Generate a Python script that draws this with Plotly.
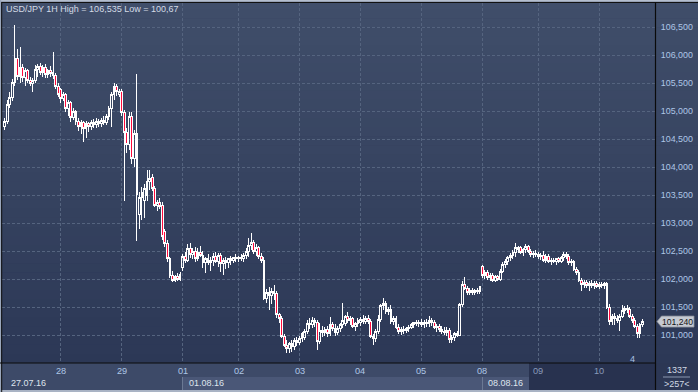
import plotly.graph_objects as go

# ---------------- data (USD/JPY, 1H candles) ----------------
opens = [
    104.72, 104.82, 105.12, 105.25, 105.52, 105.95, 105.62, 105.78, 105.60, 105.72,
    105.55, 105.50, 105.55, 105.75, 105.80, 105.70, 105.78, 105.66, 105.72, 105.70,
    105.64, 105.45, 105.38, 105.22, 105.30, 105.05, 105.15, 104.88, 105.00, 104.82,
    104.72, 104.80, 104.70, 104.78, 104.72, 104.80, 104.76, 104.82, 104.78, 104.84,
    104.80, 104.90, 105.05, 105.30, 105.45, 105.30, 105.36, 104.98, 104.62, 104.40,
    104.90, 104.15, 104.60, 103.15, 103.45, 103.40, 103.50, 103.75, 103.82, 103.62,
    103.32, 103.36, 103.32, 102.85, 102.64, 102.36, 102.06, 101.98, 102.04, 102.00,
    102.20, 102.40, 102.34, 102.55, 102.44, 102.50, 102.36, 102.48, 102.42, 102.30,
    102.36, 102.30, 102.34, 102.40, 102.32, 102.42, 102.28, 102.34, 102.30, 102.36,
    102.34, 102.38, 102.36, 102.38, 102.36, 102.42, 102.50, 102.60, 102.66, 102.50,
    102.56, 102.40, 102.34, 101.66, 101.76, 101.70, 101.78, 101.74, 101.36, 101.30,
    100.98, 100.82, 100.76, 100.84, 100.80, 100.90, 100.86, 100.94, 100.96, 101.06,
    101.20, 101.18, 101.26, 101.22, 100.88, 101.08, 101.04, 101.10, 101.02, 101.18,
    101.12, 101.04, 101.12, 101.18, 101.20, 101.34, 101.26, 101.30, 101.16, 101.20,
    101.22, 101.28, 101.24, 101.30, 101.24, 100.98, 100.94, 101.06, 101.28, 101.52,
    101.56, 101.42, 101.46, 101.24, 101.30, 101.14, 101.06, 101.10, 101.08, 101.12,
    101.14, 101.18, 101.22, 101.20, 101.22, 101.18, 101.22, 101.20, 101.26, 101.22,
    101.14, 101.16, 101.10, 101.06, 101.04, 101.08, 100.92, 100.96, 101.02, 101.00,
    101.55, 101.90, 101.84, 101.76, 101.80, 101.76, 101.80, 101.78, 102.22, 102.06,
    102.12, 102.02, 102.06, 101.98, 102.04, 101.99, 102.14, 102.26, 102.32, 102.38,
    102.42, 102.48, 102.56, 102.56, 102.48, 102.52, 102.58, 102.50, 102.44, 102.46,
    102.44, 102.40, 102.42, 102.34, 102.40, 102.32, 102.34, 102.32, 102.36, 102.32,
    102.38, 102.44, 102.40, 102.30, 102.32, 102.18, 102.12, 101.98, 101.90, 101.94,
    101.88, 101.92, 101.88, 101.92, 101.86, 101.90, 101.88, 101.92, 101.50, 101.24,
    101.34, 101.30, 101.26, 101.34, 101.44, 101.48, 101.46, 101.34, 101.26, 101.16,
    101.02, 101.18,
]
highs = [
    104.88, 105.20, 105.34, 105.58, 106.54, 106.12, 106.14, 105.85, 105.78, 105.75,
    105.62, 105.60, 105.82, 105.85, 105.87, 105.82, 105.84, 105.76, 105.80, 106.05,
    105.68, 105.50, 105.42, 105.35, 105.32, 105.20, 105.18, 105.05, 105.02, 104.88,
    104.84, 104.82, 104.82, 104.80, 104.85, 104.86, 104.88, 104.86, 104.88, 104.92,
    104.95, 105.10, 105.34, 105.50, 105.48, 105.40, 105.40, 105.02, 104.70, 104.98,
    104.98, 104.66, 105.66, 103.55, 103.65, 103.70, 103.95, 103.95, 103.88, 103.66,
    103.42, 103.45, 103.38, 102.90, 102.70, 102.40, 102.14, 102.08, 102.10, 102.12,
    102.45, 102.48, 102.62, 102.64, 102.56, 102.58, 102.55, 102.60, 102.50, 102.40,
    102.44, 102.40, 102.46, 102.48, 102.46, 102.46, 102.38, 102.40, 102.38, 102.42,
    102.40, 102.44, 102.42, 102.44, 102.46, 102.55, 102.73, 102.82, 102.70, 102.62,
    102.60, 102.46, 102.40, 101.82, 101.86, 101.84, 101.90, 101.78, 101.40, 101.34,
    101.02, 100.92, 100.88, 100.92, 100.94, 100.96, 100.98, 101.06, 101.10, 101.26,
    101.30, 101.32, 101.30, 101.26, 101.22, 101.16, 101.14, 101.16, 101.32, 101.24,
    101.20, 101.16, 101.22, 101.58, 101.36, 101.42, 101.34, 101.32, 101.24, 101.30,
    101.32, 101.36, 101.34, 101.36, 101.28, 101.02, 101.10, 101.36, 101.56, 101.66,
    101.60, 101.50, 101.54, 101.34, 101.34, 101.20, 101.14, 101.16, 101.14, 101.18,
    101.22, 101.24, 101.26, 101.26, 101.28, 101.26, 101.28, 101.34, 101.30, 101.26,
    101.20, 101.20, 101.16, 101.14, 101.14, 101.12, 101.00, 101.06, 101.08, 101.58,
    101.96, 102.04, 101.88, 101.84, 101.84, 101.82, 101.84, 101.88, 102.25, 102.16,
    102.16, 102.10, 102.10, 102.08, 102.08, 102.18, 102.30, 102.36, 102.42, 102.46,
    102.52, 102.64, 102.60, 102.60, 102.56, 102.62, 102.61, 102.54, 102.50, 102.52,
    102.48, 102.46, 102.50, 102.44, 102.44, 102.38, 102.38, 102.38, 102.40, 102.42,
    102.48, 102.48, 102.44, 102.36, 102.34, 102.22, 102.16, 102.02, 101.98, 101.98,
    101.96, 101.98, 101.96, 101.96, 101.94, 101.95, 101.94, 101.95, 101.56, 101.38,
    101.40, 101.36, 101.38, 101.54, 101.52, 101.54, 101.50, 101.38, 101.30, 101.20,
    101.22, 101.28,
]
lows = [
    104.66, 104.78, 105.05, 105.18, 105.45, 105.55, 105.50, 105.52, 105.45, 105.50,
    105.45, 105.35, 105.50, 105.62, 105.65, 105.62, 105.60, 105.60, 105.62, 105.58,
    105.40, 105.25, 105.15, 105.18, 104.98, 104.92, 104.80, 104.85, 104.75, 104.65,
    104.60, 104.45, 104.52, 104.62, 104.66, 104.70, 104.70, 104.72, 104.72, 104.76,
    104.75, 104.85, 104.72, 105.20, 105.28, 105.25, 104.92, 103.40, 104.25, 104.30,
    104.05, 104.00, 102.68, 102.90, 103.05, 103.10, 103.40, 103.60, 103.58, 103.28,
    103.22, 103.25, 102.70, 102.58, 102.30, 102.02, 101.95, 101.94, 101.96, 101.97,
    102.15, 102.28, 102.30, 102.38, 102.36, 102.30, 102.32, 102.40, 102.20, 102.10,
    102.26, 102.14, 102.24, 102.28, 102.22, 102.12, 102.08, 102.18, 102.20, 102.26,
    102.28, 102.30, 102.30, 102.32, 102.30, 102.36, 102.40, 102.52, 102.45, 102.42,
    102.36, 102.28, 101.62, 101.58, 101.44, 101.55, 101.62, 101.30, 101.22, 100.94,
    100.78, 100.67, 100.67, 100.70, 100.74, 100.80, 100.82, 100.88, 100.92, 101.02,
    101.10, 101.12, 101.14, 100.73, 100.84, 100.96, 100.98, 100.96, 100.98, 101.08,
    100.98, 101.00, 101.06, 101.12, 101.16, 101.22, 101.18, 101.12, 101.08, 101.14,
    101.16, 101.20, 101.20, 101.20, 100.94, 100.82, 100.88, 101.02, 101.24, 101.44,
    101.38, 101.36, 101.20, 101.18, 101.10, 101.02, 101.00, 101.02, 101.04, 101.06,
    101.10, 101.12, 101.16, 101.14, 101.14, 101.12, 101.14, 101.14, 101.16, 101.10,
    101.06, 101.06, 101.02, 101.00, 100.98, 100.86, 100.86, 100.90, 100.96, 100.98,
    101.50, 101.80, 101.72, 101.72, 101.72, 101.72, 101.74, 101.74, 102.02, 102.00,
    101.98, 101.96, 101.94, 101.94, 101.96, 101.96, 102.10, 102.20, 102.26, 102.32,
    102.36, 102.40, 102.46, 102.44, 102.42, 102.46, 102.46, 102.40, 102.38, 102.40,
    102.36, 102.34, 102.30, 102.28, 102.28, 102.26, 102.28, 102.26, 102.28, 102.28,
    102.32, 102.36, 102.26, 102.24, 102.14, 102.08, 101.94, 101.78, 101.84, 101.84,
    101.78, 101.84, 101.82, 101.84, 101.82, 101.84, 101.82, 101.46, 101.18, 101.18,
    101.18, 101.22, 101.08, 101.30, 101.38, 101.40, 101.30, 101.22, 101.12, 100.95,
    100.95, 101.14,
]
closes = [
    104.82, 105.12, 105.25, 105.52, 105.95, 105.62, 105.78, 105.60, 105.72, 105.55,
    105.50, 105.55, 105.75, 105.80, 105.70, 105.78, 105.66, 105.72, 105.68, 105.64,
    105.45, 105.30, 105.22, 105.30, 105.05, 105.15, 104.88, 105.00, 104.82, 104.72,
    104.80, 104.70, 104.78, 104.72, 104.80, 104.76, 104.82, 104.78, 104.84, 104.80,
    104.90, 105.05, 105.30, 105.45, 105.35, 105.36, 104.98, 104.62, 104.40, 104.90,
    104.15, 104.60, 103.52, 103.45, 103.55, 103.62, 103.75, 103.80, 103.62, 103.32,
    103.36, 103.30, 102.76, 102.64, 102.36, 102.06, 101.98, 102.04, 102.00, 102.08,
    102.40, 102.34, 102.55, 102.44, 102.50, 102.36, 102.48, 102.42, 102.30, 102.36,
    102.30, 102.34, 102.40, 102.32, 102.42, 102.28, 102.34, 102.30, 102.36, 102.34,
    102.38, 102.36, 102.38, 102.36, 102.42, 102.50, 102.60, 102.66, 102.50, 102.56,
    102.40, 102.34, 101.66, 101.76, 101.70, 101.78, 101.74, 101.36, 101.30, 100.98,
    100.82, 100.76, 100.84, 100.80, 100.90, 100.86, 100.94, 101.02, 101.06, 101.20,
    101.18, 101.26, 101.22, 100.88, 101.08, 101.04, 101.10, 101.02, 101.18, 101.12,
    101.04, 101.12, 101.18, 101.26, 101.34, 101.26, 101.30, 101.16, 101.20, 101.26,
    101.28, 101.24, 101.30, 101.24, 100.98, 100.94, 101.06, 101.28, 101.52, 101.56,
    101.42, 101.46, 101.24, 101.30, 101.14, 101.06, 101.10, 101.08, 101.12, 101.14,
    101.18, 101.22, 101.20, 101.22, 101.18, 101.22, 101.20, 101.26, 101.22, 101.14,
    101.16, 101.10, 101.06, 101.04, 101.08, 100.92, 100.96, 101.02, 101.00, 101.55,
    101.90, 101.84, 101.76, 101.80, 101.76, 101.80, 101.78, 101.86, 102.06, 102.12,
    102.02, 102.06, 101.98, 102.04, 101.99, 102.14, 102.26, 102.32, 102.38, 102.42,
    102.48, 102.56, 102.52, 102.48, 102.52, 102.58, 102.50, 102.44, 102.46, 102.44,
    102.40, 102.42, 102.34, 102.40, 102.32, 102.34, 102.32, 102.36, 102.32, 102.38,
    102.44, 102.40, 102.30, 102.32, 102.18, 102.12, 101.98, 101.90, 101.94, 101.88,
    101.92, 101.88, 101.92, 101.86, 101.90, 101.88, 101.92, 101.50, 101.24, 101.34,
    101.30, 101.26, 101.34, 101.44, 101.48, 101.46, 101.34, 101.26, 101.16, 101.02,
    101.18, 101.24,
]
bar_index = list(range(len(closes)))

# day separators (bar index of first bar of each day) and labels
day_ticks = [22, 46, 70, 92, 116, 140, 164, 188, 210, 234]
day_labels = ["28", "29", "01", "02", "03", "04", "05", "08", "09", "10"]
week_labels = ["27.07.16", "01.08.16", "08.08.16"]

price_ticks = [101.0, 101.5, 102.0, 102.5, 103.0, 103.5, 104.0, 104.5, 105.0, 105.5, 106.0, 106.5]
price_labels = ["101,000", "101,500", "102,000", "102,500", "103,000", "103,500",
                "104,000", "104,500", "105,000", "105,500", "106,000", "106,500"]

title_text = "USD/JPY 1H High = 106,535 Low = 100,67"
bars_info = "1337"
visible_info = ">257<"

# ---------------- geometry helpers (pixels -> paper) ----------------
W, H = 698, 392
ML, MR, MT, MB = 2, 43, 3, 29
PW, PH = W - ML - MR, H - MT - MB
Y_RANGE = [100.50, 106.934]


def px(p):
    return (p - ML) / PW


def py(p):
    return (H - MB - p) / PH


FONT = "Liberation Sans, Arial, sans-serif"

fig = go.Figure()
fig.add_trace(go.Candlestick(
    x=bar_index, open=opens, high=highs, low=lows, close=closes,
    increasing=dict(line=dict(color="#ffffff", width=1), fillcolor="rgba(0,0,0,0)"),
    decreasing=dict(line=dict(color="#ffffff", width=1), fillcolor="#ff0a3c"),
    whiskerwidth=0, hoverinfo="skip", showlegend=False,
))

shapes = []
# background gradient (plot + right scale panel)
top_c, bot_c = (64, 78, 106), (44, 56, 86)
N = 40
for i in range(N):
    f = (i + 0.5) / N
    c = tuple(round(top_c[j] + (bot_c[j] - top_c[j]) * f) for j in range(3))
    y0p = 363 * i / N
    y1p = 363 * (i + 1) / N + 0.6
    shapes.append(dict(type="rect", xref="paper", yref="paper", layer="below",
                       x0=px(0), x1=px(W), y0=py(y1p), y1=py(y0p),
                       line=dict(width=0), fillcolor="rgb(%d,%d,%d)" % c))
# bottom time bar
shapes += [
    dict(type="rect", xref="paper", yref="paper", layer="below",
         x0=px(0), x1=px(655), y0=py(392), y1=py(363),
         line=dict(width=0), fillcolor="#3d4a68"),
    dict(type="rect", xref="paper", yref="paper", layer="below",
         x0=px(182.5), x1=px(529), y0=py(390), y1=py(377),
         line=dict(width=0), fillcolor="#4a5777"),
    dict(type="rect", xref="paper", yref="paper", layer="below",
         x0=px(529), x1=px(655), y0=py(390), y1=py(363),
         line=dict(width=0), fillcolor="#28324f"),
    dict(type="rect", xref="paper", yref="paper", layer="below",
         x0=px(655), x1=px(W), y0=py(392), y1=py(363),
         line=dict(width=0), fillcolor="#2c3754"),
    dict(type="line", xref="paper", yref="paper", layer="above",
         x0=px(182.5), x1=px(182.5), y0=py(390), y1=py(377),
         line=dict(width=1, color="#6b7994")),
    dict(type="line", xref="paper", yref="paper", layer="above",
         x0=px(482.5), x1=px(482.5), y0=py(390), y1=py(377),
         line=dict(width=1, color="#6b7994")),
    dict(type="line", xref="paper", yref="paper", layer="above",
         x0=px(663), x1=px(690), y0=py(377), y1=py(377),
         line=dict(width=1, color="#8a98b0")),
    # frame lines
    dict(type="rect", xref="paper", yref="paper", layer="above",
         x0=px(0), x1=px(W), y0=py(392), y1=py(390),
         line=dict(width=0), fillcolor="#a9b3c4"),
    dict(type="rect", xref="paper", yref="paper", layer="above",
         x0=px(0), x1=px(W), y0=py(1.8), y1=py(0),
         line=dict(width=0), fillcolor="#b4bece"),
    dict(type="line", xref="paper", yref="paper", layer="above",
         x0=px(0), x1=px(W), y0=py(2.5), y1=py(2.5),
         line=dict(width=1, color="#111111")),
    dict(type="rect", xref="paper", yref="paper", layer="above",
         x0=px(0), x1=px(1.2), y0=py(392), y1=py(0),
         line=dict(width=0), fillcolor="#9aa6ba"),
    dict(type="line", xref="paper", yref="paper", layer="above",
         x0=px(1.7), x1=px(1.7), y0=py(392), y1=py(2.5),
         line=dict(width=1, color="#111111")),
    dict(type="line", xref="paper", yref="paper", layer="above",
         x0=px(0), x1=px(655.5), y0=py(363), y1=py(363),
         line=dict(width=1.2, color="#0a0a0a")),
    dict(type="line", xref="paper", yref="paper", layer="above",
         x0=px(655.5), x1=px(655.5), y0=py(390), y1=py(2.5),
         line=dict(width=1.2, color="#0a0a0a")),
]

# last price marker
last = closes[-1]
dy = 5.5 / (PH / (Y_RANGE[1] - Y_RANGE[0]))
shapes.append(dict(type="path", xref="paper", yref="y", layer="above",
                   path="M %f,%f L %f,%f L %f,%f L %f,%f L %f,%f Z" % (
                       px(657), last, px(661.5), last + dy, px(694), last + dy,
                       px(694), last - dy, px(661.5), last - dy),
                   line=dict(width=0.8, color="#8a8f98"), fillcolor="#c6cad2"))

annotations = [
    dict(text=title_text, xref="paper", yref="paper", x=px(4), y=py(8.8),
         xanchor="left", yanchor="middle", showarrow=False,
         font=dict(family=FONT, size=9.0, color="#d4dbe6")),
    dict(text=("%.3f" % last).replace(".", ","), xref="paper", yref="y",
         x=px(677.5), y=last, xanchor="center", yanchor="middle", showarrow=False,
         borderpad=0, font=dict(family=FONT, size=8.6, color="#151515")),
    dict(text=bars_info, xref="paper", yref="paper", x=px(676.5), y=py(370),
         xanchor="center", yanchor="middle", showarrow=False,
         font=dict(family=FONT, size=9.0, color="#d0d8e4")),
    dict(text=visible_info, xref="paper", yref="paper", x=px(676.5), y=py(383.5),
         xanchor="center", yanchor="middle", showarrow=False,
         font=dict(family=FONT, size=9.0, color="#d0d8e4")),
    dict(text="4", xref="paper", yref="paper", x=px(632), y=py(358.5),
         xanchor="center", yanchor="middle", showarrow=False,
         font=dict(family=FONT, size=9.0, color="#a9c2e4")),
]
for k, lab in zip(day_ticks, day_labels):
    col = "#8a9aba" if lab in ("09", "10") else "#aec6e6"
    annotations.append(dict(text=lab, xref="x", yref="paper", x=k, y=py(371.5),
                            xanchor="center", yanchor="middle", showarrow=False,
                            font=dict(family=FONT, size=9.2, color=col)))
week_px = [9, 187, 486]
for p, lab in zip(week_px, week_labels):
    annotations.append(dict(text=lab, xref="paper", yref="paper", x=px(p), y=py(383),
                            xanchor="left", yanchor="middle", showarrow=False,
                            font=dict(family=FONT, size=9.0, color="#dfe5ee")))

fig.update_layout(
    width=W, height=H,
    margin=dict(l=ML, r=MR, t=MT, b=MB, pad=0),
    paper_bgcolor="#2c3754", plot_bgcolor="rgba(0,0,0,0)",
    showlegend=False, hovermode=False, boxgap=0.0,
    shapes=shapes, annotations=annotations,
    xaxis=dict(range=[-1.10, 255.92], tickvals=day_ticks, showticklabels=False,
               showgrid=True, gridcolor="#55647f", griddash="3px,2px", gridwidth=1,
               zeroline=False, showline=False, ticks="", fixedrange=True,
               rangeslider=dict(visible=False)),
    yaxis=dict(range=Y_RANGE, side="right", tickvals=price_ticks,
               ticktext=price_labels, showgrid=True, gridcolor="#55647f",
               griddash="3px,2px", gridwidth=1, zeroline=False, showline=False,
               ticks="outside", ticklen=3, tickcolor="rgba(0,0,0,0)",
               tickfont=dict(family=FONT, size=8.9, color="#aec6e6"), fixedrange=True),
)

fig.write_html(
    "out.html",
    config={"displayModeBar": False, "staticPlot": True},
    post_script=(
        "document.body.style.margin='0';document.body.style.overflow='hidden';"
        "var s=document.createElement('style');"
        "s.textContent='.boxlayer path{shape-rendering:crispEdges}';"
        "document.head.appendChild(s);"
    ),
)
